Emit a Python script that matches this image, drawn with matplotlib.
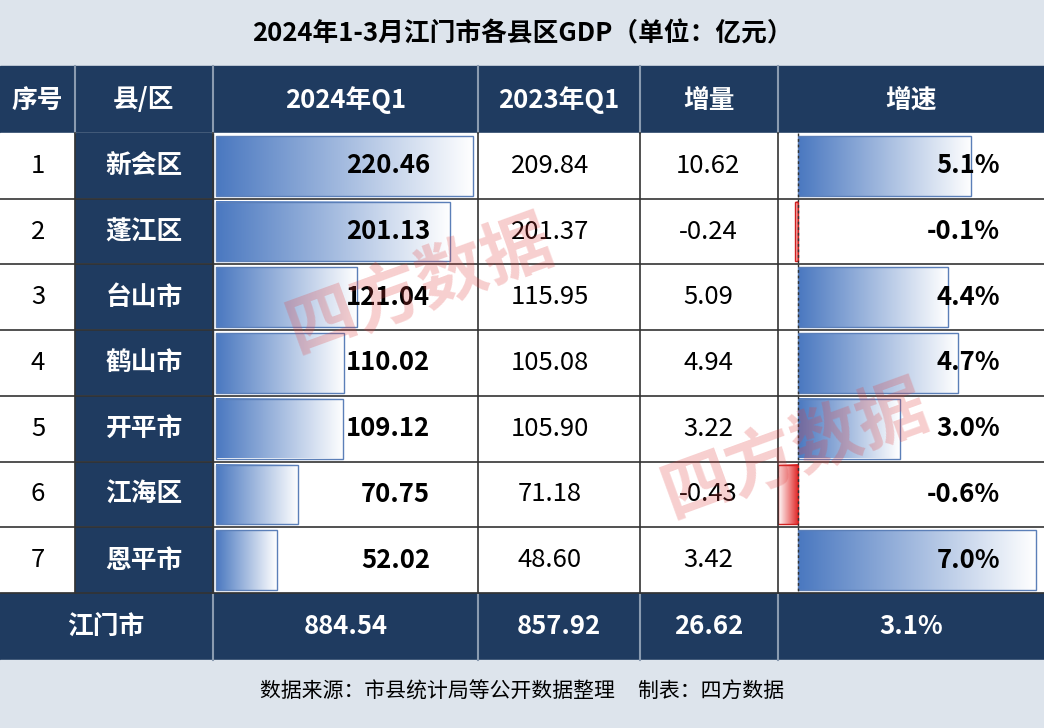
import matplotlib
matplotlib.use("Agg")
import matplotlib.pyplot as plt
import numpy as np
from matplotlib.patches import Rectangle
from matplotlib.colors import LinearSegmentedColormap

plt.rcParams['font.family'] = ['Noto Sans CJK SC', 'DejaVu Sans']

title = "2024年1-3月江门市各县区GDP（单位：亿元）"
headers = ["序号", "县/区", "2024年Q1", "2023年Q1", "增量", "增速"]
ranks = ["1", "2", "3", "4", "5", "6", "7"]
regions = ["新会区", "蓬江区", "台山市", "鹤山市", "开平市", "江海区", "恩平市"]
gdp2024 = [220.46, 201.13, 121.04, 110.02, 109.12, 70.75, 52.02]
gdp2023 = [209.84, 201.37, 115.95, 105.08, 105.90, 71.18, 48.60]
increase = [10.62, -0.24, 5.09, 4.94, 3.22, -0.43, 3.42]
growth = [5.1, -0.1, 4.4, 4.7, 3.0, -0.6, 7.0]
total_name = "江门市"
total_vals = ["884.54", "857.92", "26.62", "3.1%"]
footer = "数据来源：市县统计局等公开数据整理     制表：四方数据"

W, H = 1044, 728
fig = plt.figure(figsize=(W/100, H/100), dpi=100)
ax = fig.add_axes([0, 0, 1, 1])
ax.set_xlim(0, W); ax.set_ylim(H, 0); ax.axis('off')

navy = "#1f3b60"
light = "#dde4ec"
cols = [0, 75, 213, 478, 640, 778, 1044]
row_top = 133; row_h = 65.7
fs = 18.5

ax.add_patch(Rectangle((0, 0), W, 66, color=light))
ax.text(W/2, 34, title, ha='center', va='center', fontsize=18.5, fontweight='bold')
ax.add_patch(Rectangle((0, 66), W, 67, color=navy))
for i, h in enumerate(headers):
    ax.text((cols[i]+cols[i+1])/2, 100, h, ha='center', va='center', fontsize=fs, fontweight='bold', color='white')
for x in cols[1:-1]:
    ax.plot([x, x], [66, 133], color='#8a9bb0', lw=1.5)

cmap = LinearSegmentedColormap.from_list('g', ["#4a78c0", "#ffffff"])
cmap_r = LinearSegmentedColormap.from_list('r', ["#ffffff", "#e02020"])
grad = np.linspace(0, 1, 256).reshape(1, -1)

maxv = max(gdp2024)
zero = 798; per = 34.0
for r in range(7):
    y0 = row_top + r*row_h; y1 = y0 + row_h; yc = (y0+y1)/2
    ax.add_patch(Rectangle((0, y0), W, row_h, color='white'))
    ax.add_patch(Rectangle((cols[1], y0), cols[2]-cols[1], row_h, color=navy))
    ax.text(38, yc, ranks[r], ha='center', va='center', fontsize=fs)
    ax.text(144, yc, regions[r], ha='center', va='center', fontsize=fs, fontweight='bold', color='white')
    bw = gdp2024[r]/maxv*257
    ax.imshow(grad, cmap=cmap, extent=[216, 216+bw, y1-3, y0+3], aspect='auto', zorder=2)
    ax.add_patch(Rectangle((216, y0+3), bw, row_h-6, fill=False, ec='#5b7fb8', lw=1, zorder=3))
    ax.text(430, yc, f"{gdp2024[r]:.2f}", ha='right', va='center', fontsize=fs, fontweight='bold', zorder=4)
    ax.text(550, yc, f"{gdp2023[r]:.2f}", ha='center', va='center', fontsize=fs)
    ax.text(708, yc, f"{increase[r]:.2f}", ha='center', va='center', fontsize=fs)
    g = growth[r]
    if g >= 0:
        ax.imshow(grad, cmap=cmap, extent=[zero, zero+g*per, y1-3, y0+3], aspect='auto', zorder=2)
        ax.add_patch(Rectangle((zero, y0+3), g*per, row_h-6, fill=False, ec='#5b7fb8', lw=1, zorder=3))
    else:
        ax.imshow(grad, cmap=cmap_r, extent=[zero+g*per, zero, y1-3, y0+3], aspect='auto', zorder=2)
        ax.add_patch(Rectangle((zero+g*per, y0+3), -g*per, row_h-6, fill=False, ec='#d02020', lw=1, zorder=3))
    ax.plot([zero, zero], [y0, y1], color='#333333', lw=1, ls=(0, (2, 2)), zorder=3)
    ax.text(1000, yc, f"{g:.1f}%", ha='right', va='center', fontsize=fs, fontweight='bold', zorder=4)
    ax.plot([0, W], [y1, y1], color='#333333', lw=1.2, zorder=5)
for x in cols[1:-1]:
    ax.plot([x, x], [row_top, row_top+7*row_h], color='#333333', lw=1.2, zorder=5)

ty0 = row_top + 7*row_h
ax.add_patch(Rectangle((0, ty0), W, 660-ty0, color=navy))
tyc = (ty0+660)/2
ax.text(106, tyc, total_name, ha='center', va='center', fontsize=fs, fontweight='bold', color='white')
for i, v in enumerate(total_vals):
    ax.text((cols[i+2]+cols[i+3])/2, tyc, v, ha='center', va='center', fontsize=fs, fontweight='bold', color='white')
for x in cols[2:-1]:
    ax.plot([x, x], [ty0, 660], color='#8a9bb0', lw=1.5)

ax.add_patch(Rectangle((0, 660), W, 68, color=light))
ax.text(W/2, 692, footer, ha='center', va='center', fontsize=15)

for (x, y) in [(420, 285), (795, 450)]:
    ax.text(x, y, "四方数据", ha='center', va='center', fontsize=50, color='#e04040', alpha=0.25,
            rotation=20, fontweight='bold', zorder=6)

fig.savefig("out.png", dpi=100)
